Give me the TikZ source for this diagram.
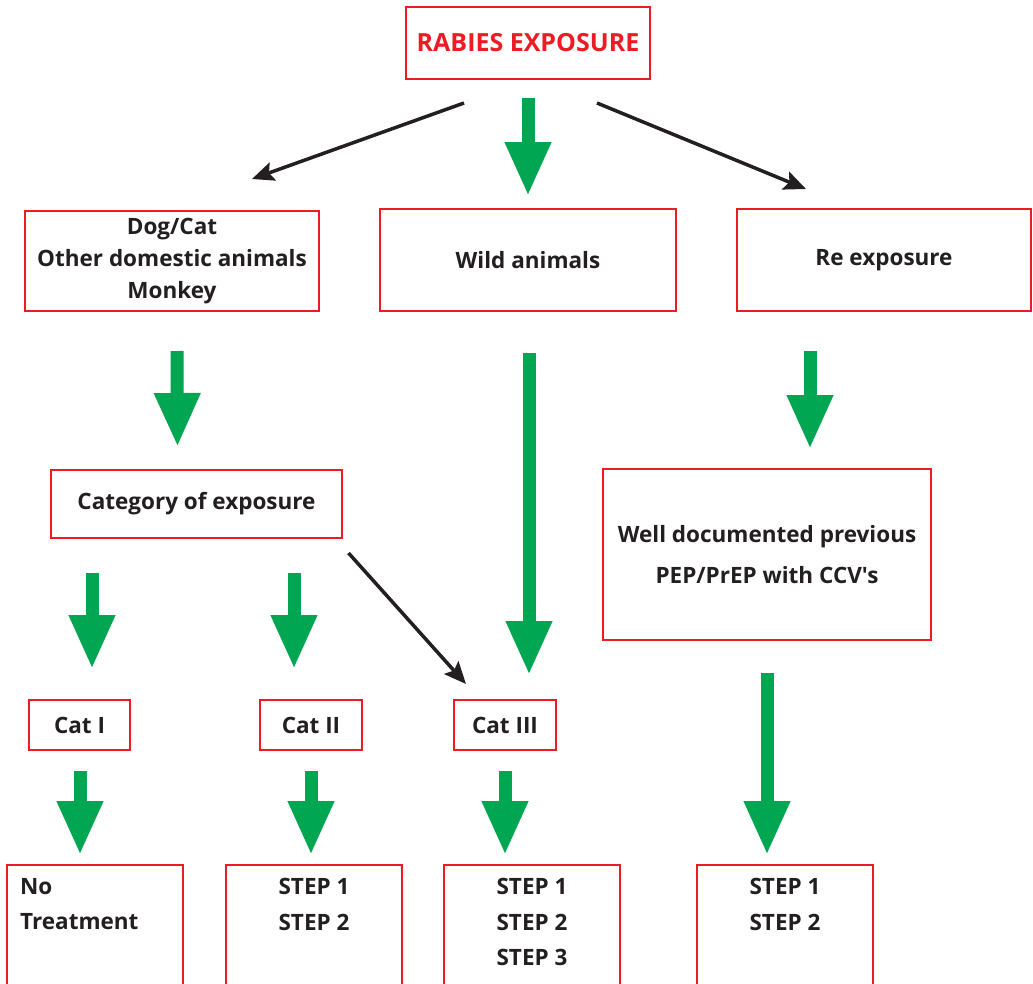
\documentclass[tikz,border=0pt]{standalone}
\usepackage{fontspec}
\setmainfont{Open Sans}[Ligatures=TeXOff]
\usepackage{tikz}
\usetikzlibrary{arrows.meta,positioning,calc}
\definecolor{boxred}{RGB}{237,28,36}
\definecolor{arrowgreen}{RGB}{0,166,81}
\definecolor{inkgray}{RGB}{35,31,32}

\begin{document}
\begin{tikzpicture}[
    x=1pt, y=-1pt,
    box/.style={rectangle, draw=boxred, line width=2pt, align=center, inner sep=0pt, text=inkgray, font=\bfseries\fontsize{22.5}{32}\selectfont},
    lowbox/.style={box, anchor=north, minimum width=176pt, minimum height=140pt},
    txt/.style={align=center, inner sep=0pt, text=inkgray, font=\bfseries\fontsize{22.5}{35.5}\selectfont},
    garrow/.style={arrowgreen, line width=13pt, -{Triangle[width=43pt, length=54pt]}},
    arrow/.style={inkgray, line width=3.5pt, -{Stealth[length=22pt, width=19pt, inset=4pt]}}
]
    \useasboundingbox (0,0) rectangle (1033,983);
    \clip (0,0) rectangle (1033,983);

    \node[box, minimum width=244pt, minimum height=72pt, text=boxred, font=\bfseries\fontsize{25}{32}\selectfont] (expo) at (528,43) {RABIES EXPOSURE};
    \node[box, minimum width=294pt, minimum height=100pt] (dog) at (172,261) {Dog/Cat\\Other domestic animals\\Monkey};
    \node[box, minimum width=296pt, minimum height=102pt] (wild) at (528,260) {Wild animals};
    \node[box, minimum width=294pt, minimum height=102pt] (reexp) at (884,260) {Re exposure};
    \node[box, minimum width=291pt, minimum height=68pt] (categ) at (196.5,504) {Category of exposure};
    \node[box, minimum width=328pt, minimum height=171pt, font=\bfseries\fontsize{22.5}{41}\selectfont] (prev) at (767,554.5) {Well documented previous\\PEP/PrEP with CCV's};
    \node[box, minimum width=101pt, minimum height=50pt] (cati) at (79.5,725) {Cat I};
    \node[box, minimum width=102pt, minimum height=50pt] (catii) at (311,725) {Cat II};
    \node[box, minimum width=102pt, minimum height=50pt] (catiii) at (505,725) {Cat III};

    \node[lowbox] (notreat) at (95,864) {};
    \node[lowbox] (stepsa) at (314,864) {};
    \node[lowbox] (stepsb) at (532,864) {};
    \node[lowbox] (stepsc) at (785,864) {};
    \node[txt, align=left, anchor=north west] (notreatt) at ($(notreat.north west)+(14,14)$) {No\\Treatment};
    \node[txt, anchor=north] (stepsat) at ($(stepsa.north)+(0,14)$) {STEP 1\\STEP 2};
    \node[txt, anchor=north] (stepsbt) at ($(stepsb.north)+(0,14)$) {STEP 1\\STEP 2\\STEP 3};
    \node[txt, anchor=north] (stepsct) at ($(stepsc.north)+(0,14)$) {STEP 1\\STEP 2};

    \draw[arrow] ($(expo.south)+(-64,23)$) -- ($(dog.north)+(80,-31)$);
    \draw[arrow] ($(expo.south)+(69,23)$) -- ($(reexp.north)+(-78,-19)$);
    \draw[arrow] ($(categ.south)+(152,14)$) -- ($(catiii.north)+(-39,-15)$);

    \draw[garrow] ($(expo.south)+(0,18)$) -- ($(wild.north)+(0,-12)$);
    \draw[garrow] ($(dog.south)+(5,39)$) -- ($(categ.north)+(-19,-22)$);
    \draw[garrow] ($(wild.south)+(1,41)$) -- ($(catiii.north)+(24,-24)$);
    \draw[garrow] ($(reexp.south)+(-74,39)$) -- ($(prev.north)+(43,-19)$);
    \draw[garrow] ($(categ.south)+(-104.5,34)$) -- ($(cati.north)+(12.5,-30)$);
    \draw[garrow] ($(categ.south)+(97.5,34)$) -- ($(catii.north)+(-17,-30)$);
    \draw[garrow] ($(cati.south)+(0.5,20)$) -- ($(notreat.north)+(-15,-9)$);
    \draw[garrow] ($(catii.south)+(0,20)$) -- ($(stepsa.north)+(-3,-9)$);
    \draw[garrow] ($(catiii.south)+(0,20)$) -- ($(stepsb.north)+(-27,-9)$);
    \draw[garrow] ($(prev.south)+(0,32)$) -- ($(stepsc.north)+(-18,-9)$);
\end{tikzpicture}
\end{document}
